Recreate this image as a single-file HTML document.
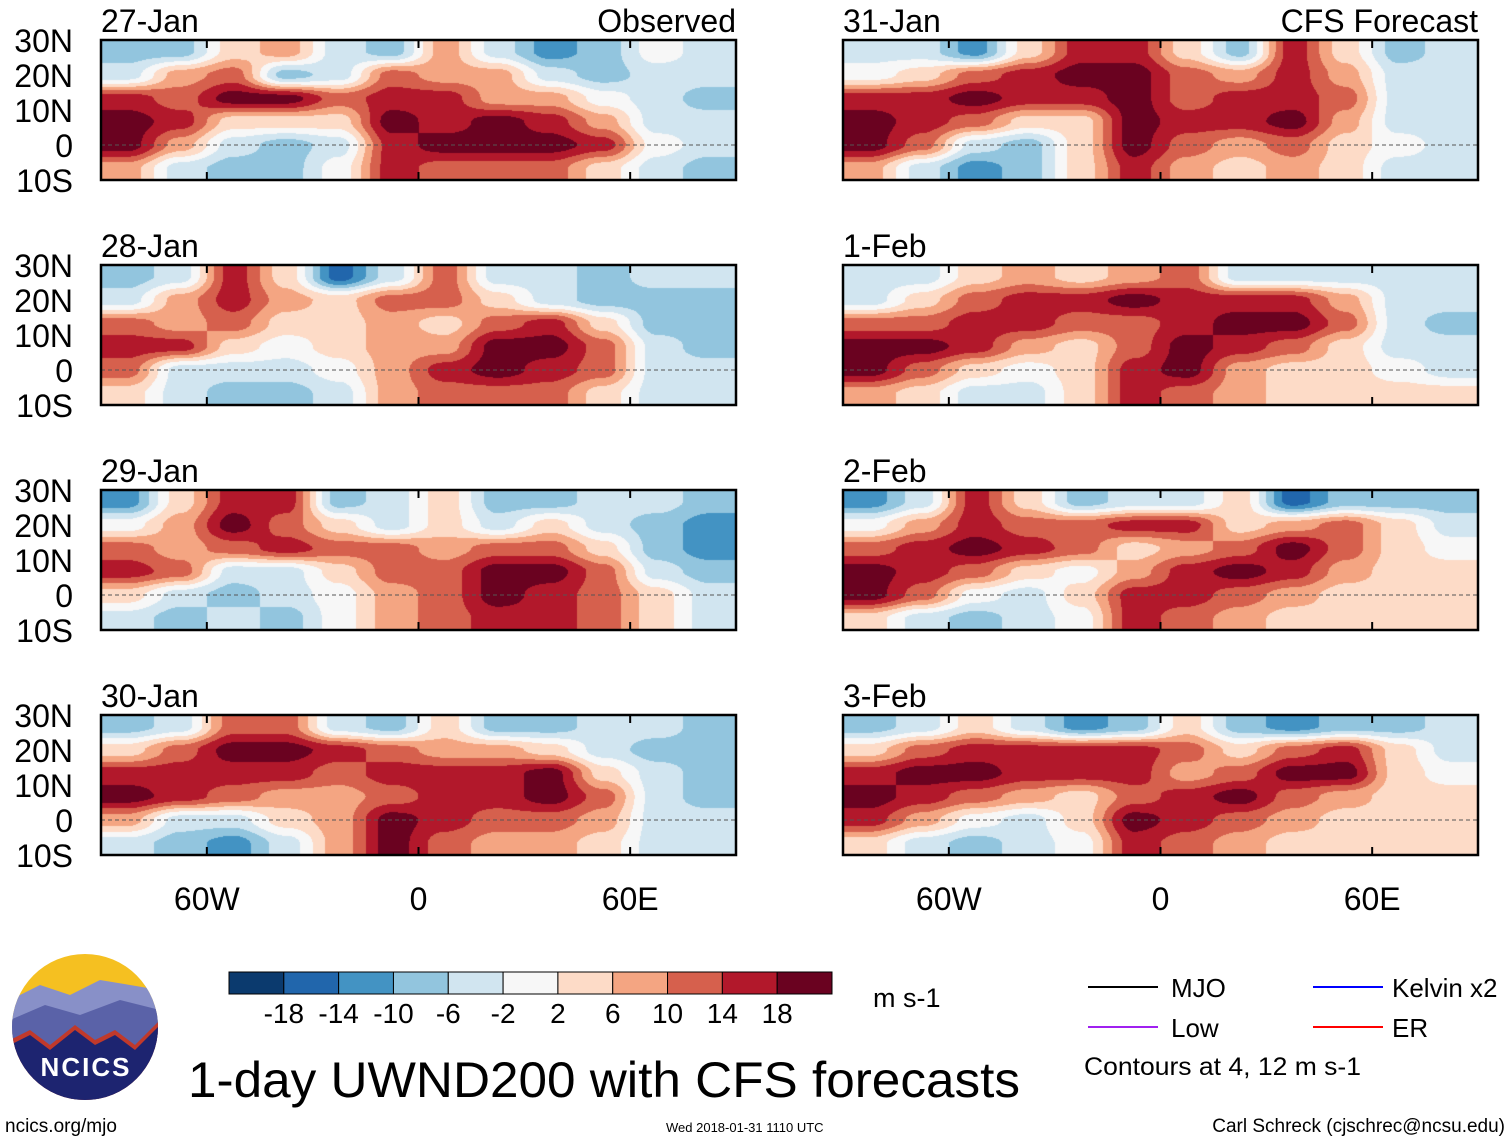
<!DOCTYPE html>
<html><head><meta charset="utf-8">
<style>
body{margin:0;background:#fff;}
#wrap{position:relative;width:1510px;height:1142px;}
#cv,#fig{position:absolute;left:0;top:0;}
svg{display:block;font-family:"Liberation Sans",sans-serif;}
</style></head>
<body>
<div id="wrap">
<canvas id="cv" width="1510" height="1142"></canvas>
<svg id="fig" width="1510" height="1142" viewBox="0 0 1510 1142">
<g id="panels"></g>
<g id="colorbar"></g>
<g>
<clipPath id="lc"><circle cx="85" cy="1027" r="73"/></clipPath>
<g clip-path="url(#lc)">
<rect x="10" y="950" width="150" height="160" fill="#f5c021"/>
<path d="M10 1000 L40 985 L70 995 L100 980 L160 990 L160 1110 L10 1110Z" fill="#8890c8"/>
<path d="M10 1020 L45 1005 L80 1015 L120 1000 L160 1010 L160 1110 L10 1110Z" fill="#5a62a8"/>
<path d="M10 1040 L30 1030 L50 1045 L75 1025 L95 1040 L115 1030 L135 1045 L160 1020 L160 1110 L10 1110Z" fill="#c0392b"/>
<path d="M10 1045 L30 1035 L50 1050 L75 1030 L95 1045 L115 1035 L135 1050 L160 1025 L160 1110 L10 1110Z" fill="#1d2470"/>
</g>
<text x="86" y="1076" font-size="26" font-weight="bold" fill="#fff" text-anchor="middle" letter-spacing="2">NCICS</text>
</g>
<text x="188" y="1097" font-size="50" textLength="832" lengthAdjust="spacingAndGlyphs">1-day UWND200 with CFS forecasts</text>
<text x="5" y="1132" font-size="19">ncics.org/mjo</text>
<text x="666" y="1132" font-size="13">Wed 2018-01-31 1110 UTC</text>
<text x="1505" y="1132" font-size="19" text-anchor="end">Carl Schreck (cjschrec@ncsu.edu)</text>
<text x="873" y="1007" font-size="27">m s-1</text>
<g>
<line x1="1088" y1="987" x2="1158" y2="987" stroke="#000" stroke-width="2"/>
<text x="1171" y="997" font-size="26">MJO</text>
<line x1="1313" y1="987" x2="1383" y2="987" stroke="#0000ff" stroke-width="2"/>
<text x="1392" y="997" font-size="26">Kelvin x2</text>
<line x1="1088" y1="1027" x2="1158" y2="1027" stroke="#a020f0" stroke-width="2"/>
<text x="1171" y="1037" font-size="26">Low</text>
<line x1="1313" y1="1027" x2="1383" y2="1027" stroke="#ff0000" stroke-width="2"/>
<text x="1392" y="1037" font-size="26">ER</text>
<text x="1084" y="1075" font-size="25" textLength="277" lengthAdjust="spacingAndGlyphs">Contours at 4, 12 m s-1</text>
</g>
</svg>
</div>
<script>
const lonCenters=[-82.5,-67.5,-52.5,-37.5,-22.5,-7.5,7.5,22.5,37.5,52.5,67.5,82.5];
const latCenters=[26.7,20,13.3,6.7,0,-6.7];
const panelTitles=["27-Jan","28-Jan","29-Jan","30-Jan","31-Jan","1-Feb","2-Feb","3-Feb"];
const latTicks=["30N","20N","10N","0","10S"];
const latTickVals=[30,20,10,0,-10];
const lonTicks=["60W","0","60E"];
const lonTickVals=[-60,0,60];
const cbLevels=[-18,-14,-10,-6,-2,2,6,10,14,18];
const cbColors=["#0b3a6e","#2166ac","#4393c3","#92c5de","#d1e5f0","#f7f7f7","#fddbc7","#f4a582","#d6604d","#b2182b","#6a0220"];
const u27Jan=[[-8,-8,4,8,-4,-8,8,-4,-12,-8,0,-4],[-4,8,12,-8,-4,12,8,8,-4,-8,-4,-4],[16,12,20,20,12,16,16,8,8,0,-4,-8],[20,16,4,4,4,20,16,20,16,8,-4,-4],[20,8,-4,-8,-4,16,20,20,20,16,0,-4],[8,-4,-8,-8,0,16,12,12,12,4,-4,-8]];
const u28Jan=[[-8,-4,16,4,-16,-4,12,-4,-4,-8,-4,-4],[-4,8,16,8,4,12,12,4,-4,-8,-8,-8],[12,8,12,4,4,8,4,12,16,4,-8,-8],[16,16,4,0,4,8,8,20,20,12,-4,-8],[12,-4,-4,-4,0,8,16,20,16,12,-4,-4],[4,-4,-8,-8,-4,8,12,12,12,4,-4,-4]];
const u29Jan=[[-12,4,16,16,-8,-4,4,-8,-8,-4,-4,-8],[0,8,20,12,4,-4,4,-4,4,-4,-8,-12],[12,8,12,16,12,12,8,12,12,4,-8,-12],[16,12,-4,-4,4,12,12,20,20,12,-4,-8],[4,-4,-8,-4,0,8,12,20,16,12,4,-4],[-4,-8,-4,-8,0,8,12,16,16,12,4,-4]];
const u30Jan=[[-8,-4,12,12,-4,-8,4,-8,-8,-4,-4,-8],[4,12,20,20,16,12,8,8,4,-4,-8,-8],[16,16,16,16,12,16,16,16,20,4,-4,-8],[20,16,12,8,8,12,16,16,20,12,-4,-8],[8,-4,-4,4,8,20,16,12,12,8,-4,-4],[-4,-8,-12,-4,8,20,12,8,8,4,-4,-4]];
const u31Jan=[[-4,-4,-12,4,16,16,4,-8,16,4,-8,-4],[0,4,12,16,20,20,12,8,16,8,-4,-4],[16,16,20,16,16,20,12,16,16,12,-4,-4],[20,16,12,4,4,20,16,16,20,8,-4,-4],[20,12,-4,-8,4,20,12,8,12,4,0,-4],[8,-4,-12,-8,4,16,8,4,8,4,-4,-4]];
const u1Feb=[[-4,-4,4,8,4,8,12,-4,-4,-4,-4,-4],[-4,4,12,16,16,20,16,16,16,8,-4,-4],[12,12,16,16,12,12,16,20,20,12,-4,-8],[20,20,16,8,4,12,20,16,12,4,-4,-4],[20,12,4,0,4,16,20,8,4,4,0,-4],[8,4,-4,-4,4,16,12,8,4,4,4,4]];
const u2Feb=[[-12,-4,16,4,-8,-4,-4,4,-16,-8,-8,-8],[0,8,16,12,12,16,16,4,8,12,4,-4],[12,16,20,16,12,4,8,12,20,12,4,0],[20,16,12,4,0,8,16,20,16,8,4,4],[20,12,0,-4,4,16,16,12,8,4,4,4],[4,-4,-8,-4,0,16,12,8,4,4,4,4]];
const u3Feb=[[-8,-4,4,-4,-12,-8,4,-8,-12,-8,-8,-4],[4,12,16,16,16,16,12,4,12,16,4,-4],[16,20,20,16,16,16,8,12,20,20,4,0],[20,16,12,8,4,12,16,20,12,8,4,4],[16,8,0,-4,4,20,16,12,8,4,4,4],[4,-4,-8,-4,0,16,12,8,4,4,4,4]];
const panelData=[u27Jan,u28Jan,u29Jan,u30Jan,u31Jan,u1Feb,u2Feb,u3Feb];

const NS="http://www.w3.org/2000/svg";
function mk(tag,attrs,parent){const e=document.createElementNS(NS,tag);for(const k in attrs)e.setAttribute(k,attrs[k]);if(parent)parent.appendChild(e);return e;}
function levelIndex(v){let i=0;while(i<cbLevels.length&&v>=cbLevels[i])i++;return i;}
function hex2rgb(h){return [parseInt(h.substr(1,2),16),parseInt(h.substr(3,2),16),parseInt(h.substr(5,2),16)];}
const rgbs=cbColors.map(hex2rgb);
function frac(arr,v){ // fractional index into monotonic array
  const n=arr.length;const asc=arr[1]>arr[0];
  for(let i=0;i<n-1;i++){const a=arr[i],b=arr[i+1];
    if(asc?(v>=a&&v<=b):(v<=a&&v>=b))return i+(v-a)/(b-a);}
  return asc?(v<arr[0]?0:n-1):(v>arr[0]?0:n-1);
}
function sample(data,lon,lat){
  const fx=frac(lonCenters,lon),fy=frac(latCenters,lat);
  const i0=Math.min(Math.floor(fx),lonCenters.length-2),j0=Math.min(Math.floor(fy),latCenters.length-2);
  const tx=fx-i0,ty=fy-j0;
  const a=data[j0][i0],b=data[j0][i0+1],c=data[j0+1][i0],d=data[j0+1][i0+1];
  const s=x=>x*x*(3-2*x);const sx=s(tx),sy=s(ty);
  return (a*(1-sx)+b*sx)*(1-sy)+(c*(1-sx)+d*sx)*sy;
}
const PW=635,PH=140;
const colX=[101,843],rowY=[40,265,490,715];
const ctx=document.getElementById('cv').getContext('2d');
const panels=document.getElementById('panels');
panelData.forEach((data,p)=>{
  const x0=colX[Math.floor(p/4)],y0=rowY[p%4];
  const xs=lon=>x0+(lon+90)/180*PW;
  const ys=lat=>y0+(30-lat)/40*PH;
  const img=ctx.createImageData(PW,PH);
  for(let py=0;py<PH;py++){const lat=30-(py+0.5)/PH*40;
    for(let px=0;px<PW;px++){const lon=-90+(px+0.5)/PW*180;
      const c=rgbs[levelIndex(sample(data,lon,lat))];const k=(py*PW+px)*4;
      img.data[k]=c[0];img.data[k+1]=c[1];img.data[k+2]=c[2];img.data[k+3]=255;}}
  ctx.putImageData(img,x0,y0);
  const g=mk('g',{},panels);
  
  
  mk('line',{x1:x0,x2:x0+PW,y1:ys(0),y2:ys(0),stroke:'#555','stroke-dasharray':'4 3','stroke-width':1},g);
  const fr=mk('rect',{x:x0,y:y0,width:PW,height:PH,fill:'none',stroke:'#000','stroke-width':2.5},g);
  
  
  lonTickVals.forEach(l=>{mk('line',{x1:xs(l),x2:xs(l),y1:y0+PH,y2:y0+PH-8,stroke:'#000','stroke-width':2},g);mk('line',{x1:xs(l),x2:xs(l),y1:y0,y2:y0+8,stroke:'#000','stroke-width':2},g);});
  const t=mk('text',{x:x0,y:y0-8,'font-size':32},g);t.textContent=panelTitles[p];
  
  
  if(p%4===0){
    const t2=mk('text',{x:x0+PW,y:y0-8,'font-size':32,'text-anchor':'end'},g);
    t2.textContent=p===0?'Observed':'CFS Forecast';
    
    
  }
  if(p<4){
    latTickVals.forEach((l,i)=>{const lt=mk('text',{x:73,y:ys(l)+12,'font-size':32,'text-anchor':'end'},g);lt.textContent=latTicks[i];
      
      });
  }
  if(p%4===3){
    lonTickVals.forEach((l,i)=>{const lt=mk('text',{x:xs(l),y:910,'font-size':32,'text-anchor':'middle'},g);lt.textContent=lonTicks[i];
      
      });
  }
});
const cb=document.getElementById('colorbar');
const cbx=229,cby=972,cbw=603/11,cbh=22;
cbColors.forEach((c,i)=>{const r=mk('rect',{x:cbx+i*cbw,y:cby,width:cbw,height:cbh,fill:c,stroke:'#000','stroke-width':1},cb);
  
  });
cbLevels.forEach((l,i)=>{const t=mk('text',{x:cbx+(i+1)*cbw,y:1023,'font-size':28,'text-anchor':'middle'},cb);t.textContent=l;
  
  });
</script>
</body></html>
